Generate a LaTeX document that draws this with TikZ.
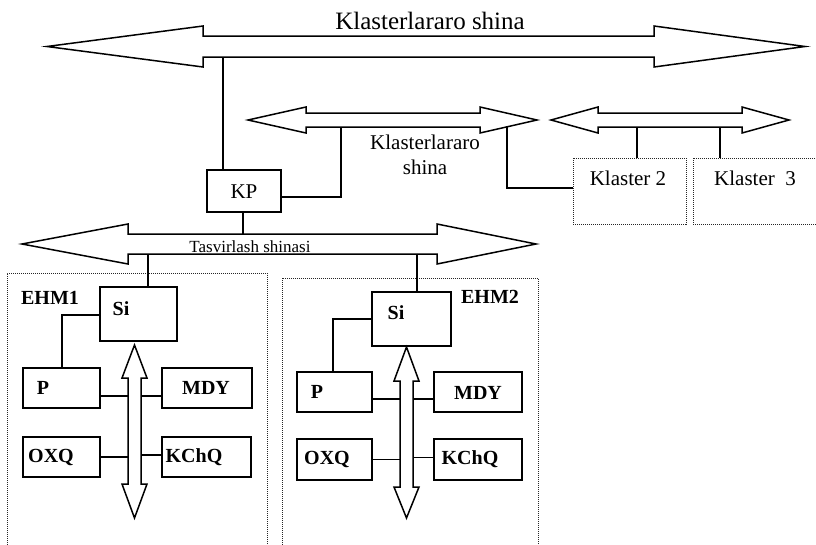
\documentclass[tikz,border=0pt]{standalone}
\usepackage{fontspec}
\setmainfont{Liberation Serif}
\newcommand\hbusarrow[7]{%
  \draw[busline] (#1,#5) -- (#2,#5-#7) -- (#2,#5-#6) -- (#3,#5-#6) -- (#3,#5-#7) -- (#4,#5)
    -- (#3,#5+#7) -- (#3,#5+#6) -- (#2,#5+#6) -- (#2,#5+#7) -- cycle;}
\newcommand\vbusarrow[7]{%
  \draw[busline] (#5,#1) -- (#5-#7,#2) -- (#5-#6,#2) -- (#5-#6,#3) -- (#5-#7,#3) -- (#5,#4)
    -- (#5+#7,#3) -- (#5+#6,#3) -- (#5+#6,#2) -- (#5+#7,#2) -- cycle;}
\begin{document}
\begin{tikzpicture}[x=1pt,y=-1pt,
  busline/.style={line width=1.5pt, line join=miter},
  blk/.style={draw, line width=1.4pt, inner sep=0pt},
  dotbox/.style={draw=black!85, line width=0.9pt, dash pattern=on 1pt off 1pt, inner sep=0pt},
  wire/.style={line width=1.3pt},
  lbl/.style={inner sep=0pt, font=\fontsize{21}{25}\selectfont},
  blbl/.style={inner sep=0pt, font=\fontsize{20}{24}\selectfont\bfseries}]
\useasboundingbox (0,0) rectangle (816,544);
\clip (0,0) rectangle (816,544);

% buses
\hbusarrow{47}{203}{654}{805}{46.5}{10.5}{20.5}
\hbusarrow{248}{306}{480}{537}{120}{7}{13}
\hbusarrow{551}{598}{742}{789}{120}{7}{13}
\hbusarrow{22}{128}{437}{536}{244}{10}{20}
\vbusarrow{345}{378}{484}{518}{134.5}{6.5}{12.5}
\vbusarrow{347}{381}{487}{518}{406.5}{6.5}{12.5}

% bus tap coordinates
\coordinate (tb1) at (223,57);
\coordinate (b2a) at (341,127);
\coordinate (b2b) at (507,127);
\coordinate (b3a) at (637,127);
\coordinate (b3b) at (720,127);
\coordinate (tvt) at (243,234);
\coordinate (tvb1) at (148,254);
\coordinate (tvb2) at (417,253.5);
\coordinate (kpr) at (281,197);
\coordinate (k2l) at (573,188);

% labels of buses
\node[inner sep=0pt, font=\fontsize{25}{28}\selectfont] (title) at (430,21) {Klasterlararo shina};
\node[lbl, align=center] (bus2lbl) at (425,155) {Klasterlararo\\shina};
\node[inner sep=0pt, font=\fontsize{17}{19}\selectfont] (tvlbl) at (250,247) {Tasvirlash shinasi};

% cluster-level blocks
\node[blk, minimum width=74pt, minimum height=42pt] (kp) at (244,191) {};
\node[lbl] (kptxt) at (244,192) {KP};
\node[dotbox, minimum width=113pt, minimum height=66pt] (k2) at (629.5,191) {};
\node[lbl] (k2txt) at (628,178) {Klaster 2};
\node[dotbox, minimum width=127pt, minimum height=66pt] (k3) at (756.5,191) {};
\node[lbl] (k3txt) at (755,178) {Klaster\ \ 3};

% EHM frames
\node[dotbox, minimum width=260pt, minimum height=287pt] (ehm1) at (137,416.5) {};
\node[dotbox, minimum width=256pt, minimum height=282pt] (ehm2) at (410,419) {};
\node[blbl] (ehm1txt) at (50,298) {EHM1};
\node[blbl] (ehm2txt) at (490,297) {EHM2};

% EHM1 blocks
\node[blk, minimum width=77pt, minimum height=54pt] (si1) at (138.5,314) {};
\node[blbl] (si1txt) at (121,309) {Si};
\node[blk, minimum width=77pt, minimum height=40pt] (p1) at (61.5,388) {};
\node[blbl] (p1txt) at (43,388) {P};
\node[blk, minimum width=90pt, minimum height=40pt] (mdy1) at (207,388) {};
\node[blbl] (mdy1txt) at (206,388) {MDY};
\node[blk, minimum width=77pt, minimum height=40pt] (oxq1) at (61.5,457) {};
\node[blbl] (oxq1txt) at (51,457) {OXQ};
\node[blk, minimum width=89pt, minimum height=40pt] (kchq1) at (206.5,457) {};
\node[blbl] (kchq1txt) at (194,457) {KChQ};

% EHM2 blocks
\node[blk, minimum width=79pt, minimum height=54pt] (si2) at (411.5,319) {};
\node[blbl] (si2txt) at (396,313) {Si};
\node[blk, minimum width=75pt, minimum height=40pt] (p2) at (334.5,392) {};
\node[blbl] (p2txt) at (317,392) {P};
\node[blk, minimum width=88pt, minimum height=40pt] (mdy2) at (478,392) {};
\node[blbl] (mdy2txt) at (478,393) {MDY};
\node[blk, minimum width=75pt, minimum height=41pt] (oxq2) at (334.5,459.5) {};
\node[blbl] (oxq2txt) at (327,459) {OXQ};
\node[blk, minimum width=88pt, minimum height=41pt] (kchq2) at (478,459.5) {};
\node[blbl] (kchq2txt) at (470,459) {KChQ};

% vertical bus side coordinates
\coordinate (v1l) at (128,0);
\coordinate (v1r) at (141,0);
\coordinate (v2l) at (400,0);
\coordinate (v2r) at (413,0);

% connectors
\draw[wire] (tb1) -- (tb1 |- kp.north);
\draw[wire] (b2a) |- (kpr);
\draw[wire] (b2b) |- (k2l);
\draw[wire] (b3a) -- (b3a |- k2.north);
\draw[wire] (b3b) -- (b3b |- k3.north);
\draw[wire] (kp.south -| tvt) -- (tvt);
\draw[wire] (tvb1) -- (tvb1 |- si1.north);
\draw[wire] (tvb2) -- (tvb2 |- si2.north);
\draw[wire] ([yshift=-1pt]si1.west) -| (p1.north -| 62,0);
\draw[wire] ([yshift=-0pt]si2.west) -| (p2.north -| 333,0);
\draw[wire] ([yshift=-8pt]p1.east) -- ([yshift=-8pt]p1.east -| v1l);
\draw[wire] ([yshift=-8pt]mdy1.west) -- ([yshift=-8pt]mdy1.west -| v1r);
\draw[wire] (oxq1.east) -- (oxq1.east -| v1l);
\draw[wire] ([yshift=2pt]kchq1.west) -- ([yshift=2pt]kchq1.west -| v1r);
\draw[wire] ([yshift=-7pt]p2.east) -- ([yshift=-7pt]p2.east -| v2l);
\draw[wire] ([yshift=-7pt]mdy2.west) -- ([yshift=-7pt]mdy2.west -| v2r);
\draw[wire] (oxq2.east) -- (oxq2.east -| v2l);
\draw[wire] ([yshift=2pt]kchq2.west) -- ([yshift=2pt]kchq2.west -| v2r);
\end{tikzpicture}
\end{document}
